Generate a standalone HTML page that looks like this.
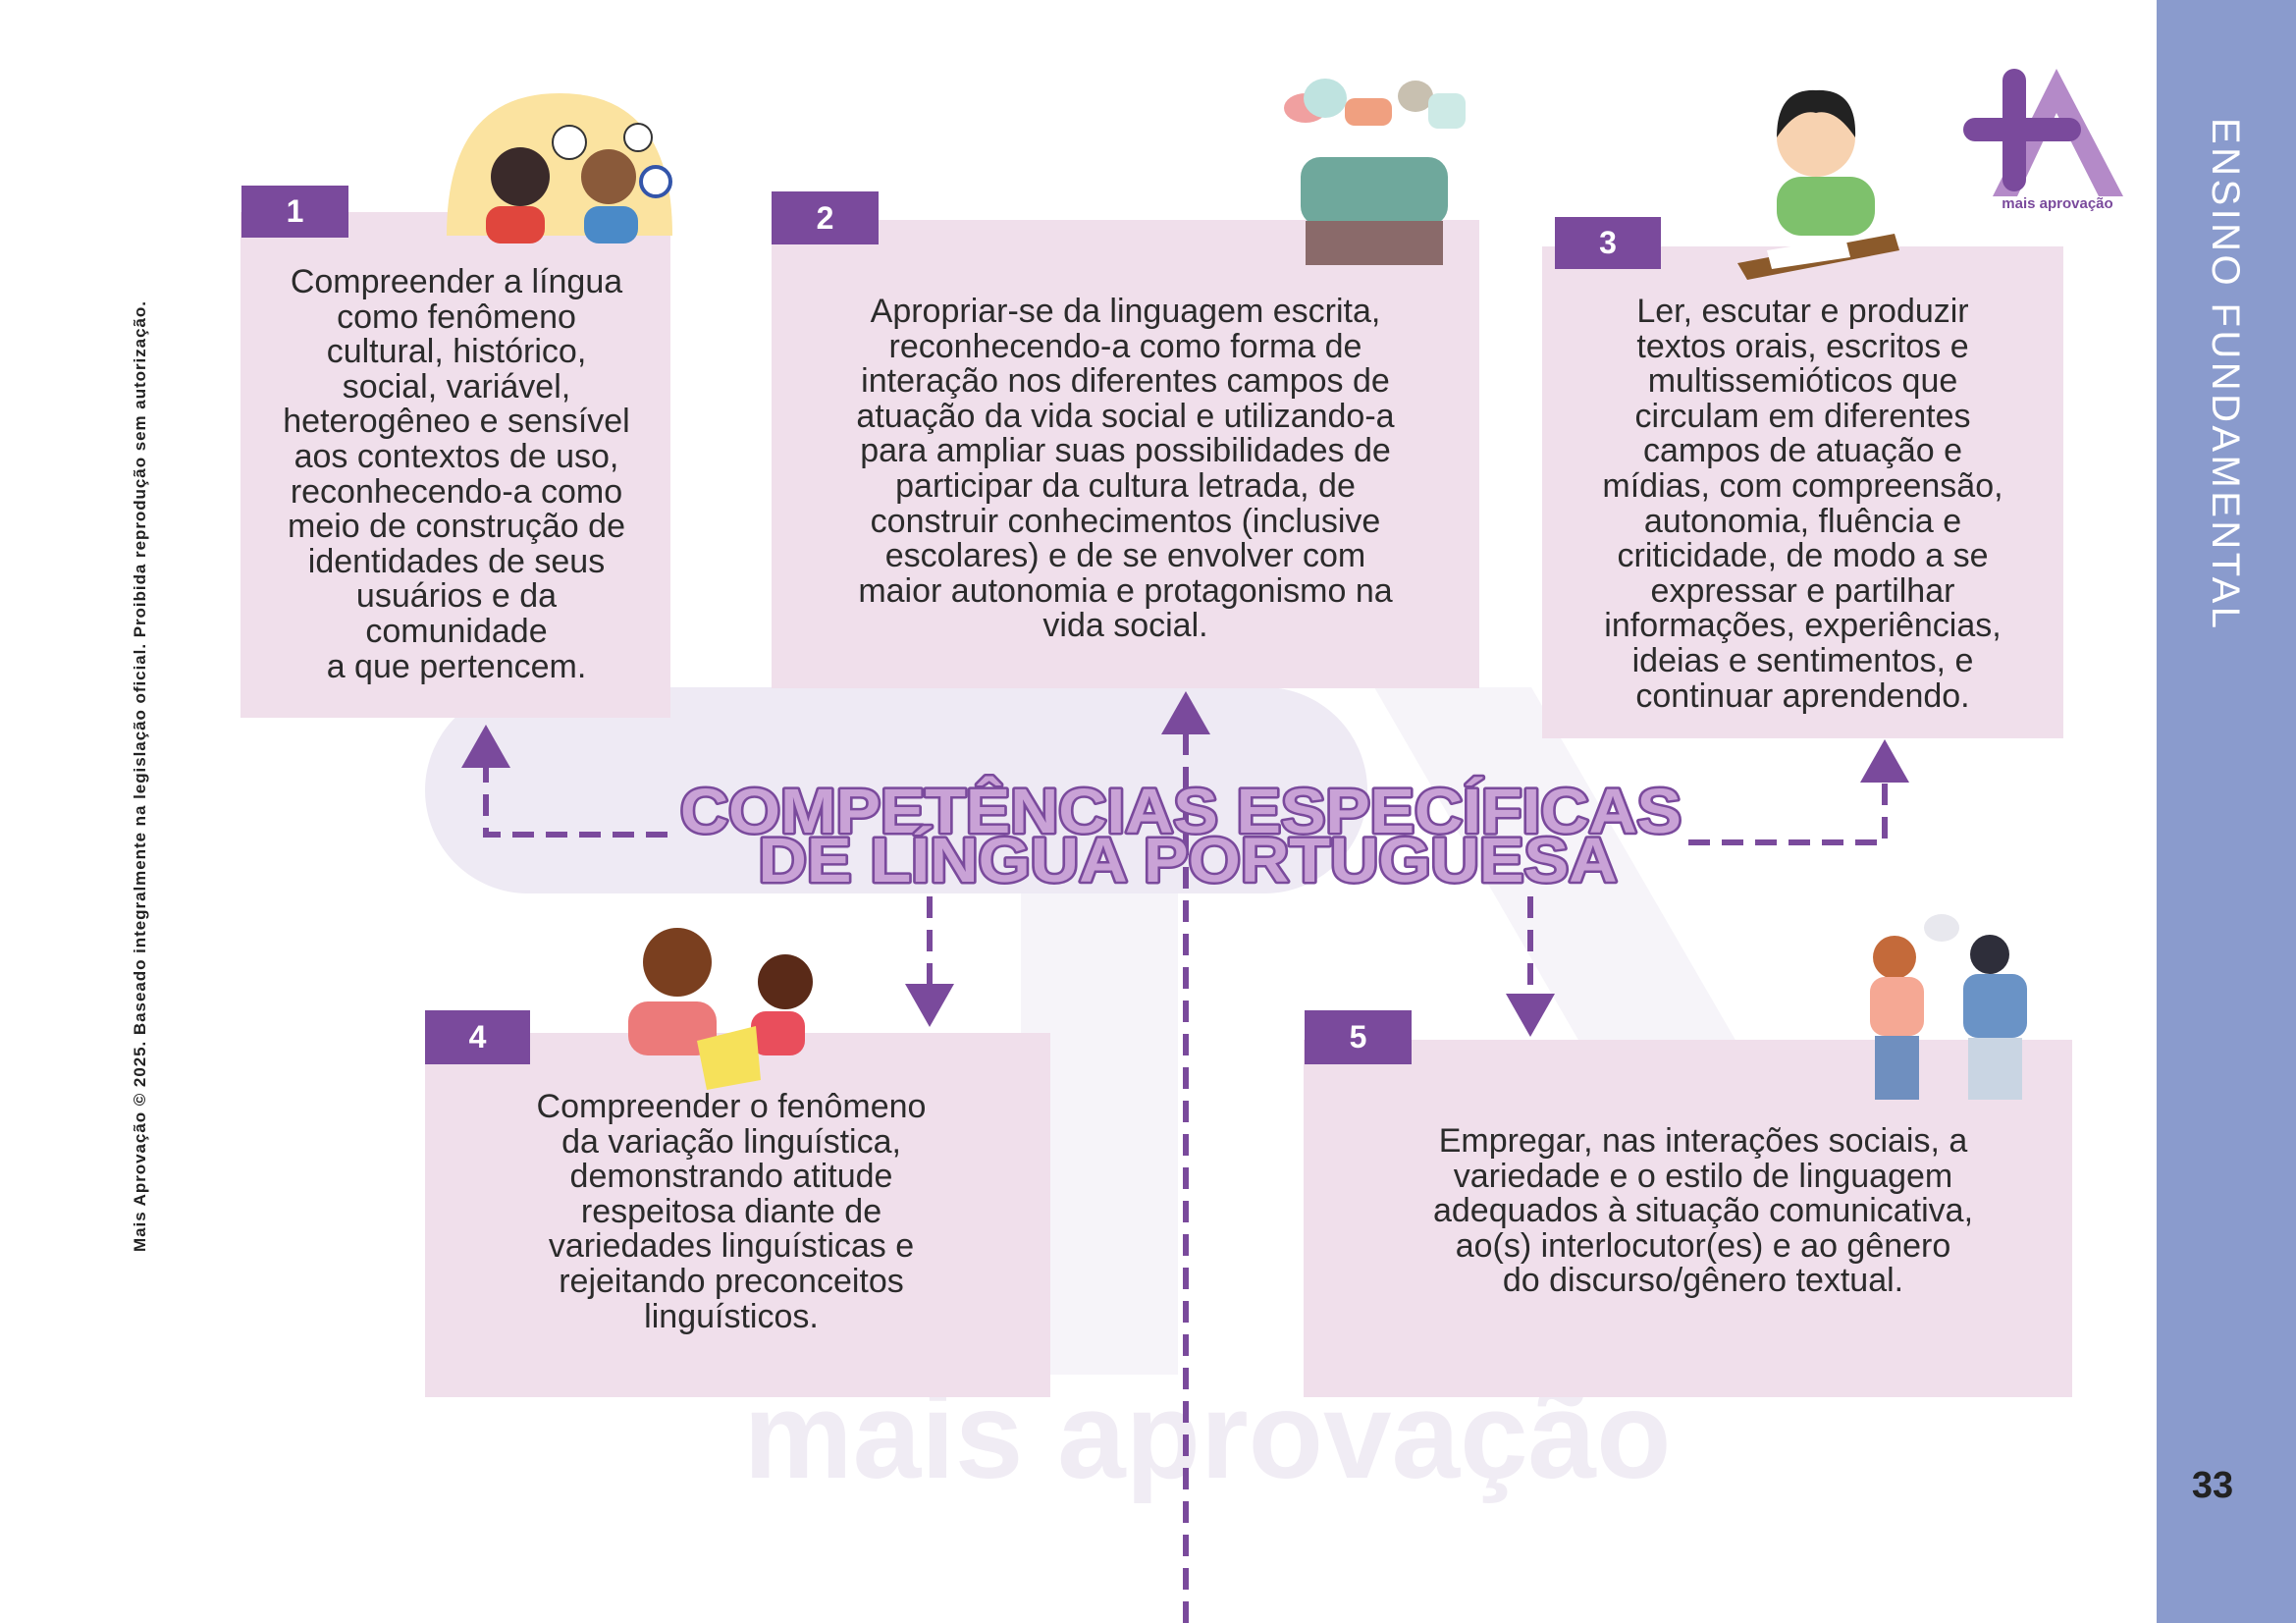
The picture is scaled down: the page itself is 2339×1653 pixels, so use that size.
<!DOCTYPE html>
<html><head><meta charset="utf-8">
<style>
html,body{margin:0;padding:0;}
body{width:2339px;height:1653px;position:relative;background:#fff;overflow:hidden;font-family:"Liberation Sans",sans-serif;}
.box{position:absolute;background:#f0dfeb;}
.tab{position:absolute;background:#7a4a9c;color:#fff;font-weight:bold;font-size:32px;display:flex;align-items:center;justify-content:center;}
.txt{position:absolute;text-align:center;color:#2b2b2b;font-size:34px;line-height:35.6px;}
</style></head><body>
<svg width="2339" height="1653" style="position:absolute;left:0;top:0">
 <rect x="433" y="700" width="960" height="210" rx="105" fill="#eeeaf4"/>
 <polygon points="1040,910 1200,910 1200,1400 1040,1400" fill="#f6f4f9"/>
 <polygon points="1400,700 1560,700 1780,1080 1620,1080" fill="#f6f4f9"/>
 <text x="1230" y="1505" text-anchor="middle" font-family="Liberation Sans" font-weight="bold" font-size="125" fill="#f0ecf4">mais aprovação</text>
 <rect x="2197" y="0" width="142" height="1653" fill="#8a9bcd"/>
 <text transform="translate(2254,120) rotate(90)" font-family="Liberation Sans" font-size="40" fill="#fff" textLength="520">ENSINO FUNDAMENTAL</text>
 <text x="2254" y="1525" text-anchor="middle" font-family="Liberation Sans" font-weight="bold" font-size="38" fill="#222">33</text>
 <text transform="translate(148,1275) rotate(-90)" font-family="Liberation Sans" font-weight="bold" font-size="17" fill="#222" textLength="968">Mais Aprovação © 2025. Baseado integralmente na legislação oficial. Proibida reprodução sem autorização.</text>
 <g>
  <path d="M2095,70 L2163,200 L2138,200 L2095,115 Z" fill="#b48ac8"/>
  <path d="M2095,70 L2030,200 L2055,200 L2095,115 Z" fill="#b48ac8"/>
  <rect x="2040" y="70" width="24" height="125" rx="12" fill="#7a4a9c"/>
  <rect x="2000" y="120" width="120" height="24" rx="12" fill="#7a4a9c"/>
  <text x="2096" y="212" text-anchor="middle" font-family="Liberation Sans" font-weight="bold" font-size="15" fill="#7a4a9c">mais aprovação</text>
 </g>
 <g stroke="#7a4a9c" stroke-width="6" stroke-dasharray="22,12" fill="none">
  <path d="M680,850 L495,850 L495,775"/>
  <path d="M1208,1653 L1208,745"/>
  <path d="M1720,858 L1920,858 L1920,795"/>
  <path d="M947,913 L947,1005"/>
  <path d="M1559,913 L1559,1015"/>
 </g>
 <g fill="#7a4a9c">
  <polygon points="495,738 470,782 520,782"/>
  <polygon points="1208,704 1183,748 1233,748"/>
  <polygon points="1920,753 1895,797 1945,797"/>
  <polygon points="947,1046 922,1002 972,1002"/>
  <polygon points="1559,1056 1534,1012 1584,1012"/>
 </g>
</svg>
<div class="box" style="left:245px;top:216px;width:438px;height:515px"></div>
<div class="tab" style="left:246px;top:189px;width:109px;height:53px">1</div>
<div class="txt" style="left:255px;top:270px;width:420px">Compreender a língua<br>como fenômeno<br>cultural, histórico,<br>social, variável,<br>heterogêneo e sensível<br>aos contextos de uso,<br>reconhecendo-a como<br>meio de construção de<br>identidades de seus<br>usuários e da<br>comunidade<br>a que pertencem.</div>

<div class="box" style="left:786px;top:224px;width:721px;height:477px"></div>
<div class="tab" style="left:786px;top:195px;width:109px;height:54px">2</div>
<div class="txt" style="left:790px;top:300px;width:713px">Apropriar-se da linguagem escrita,<br>reconhecendo-a como forma de<br>interação nos diferentes campos de<br>atuação da vida social e utilizando-a<br>para ampliar suas possibilidades de<br>participar da cultura letrada, de<br>construir conhecimentos (inclusive<br>escolares) e de se envolver com<br>maior autonomia e protagonismo na<br>vida social.</div>

<div class="box" style="left:1571px;top:251px;width:531px;height:501px"></div>
<div class="tab" style="left:1584px;top:221px;width:108px;height:53px">3</div>
<div class="txt" style="left:1575px;top:300px;width:523px">Ler, escutar e produzir<br>textos orais, escritos e<br>multissemióticos que<br>circulam em diferentes<br>campos de atuação e<br>mídias, com compreensão,<br>autonomia, fluência e<br>criticidade, de modo a se<br>expressar e partilhar<br>informações, experiências,<br>ideias e sentimentos, e<br>continuar aprendendo.</div>

<div class="box" style="left:433px;top:1052px;width:637px;height:371px"></div>
<div class="tab" style="left:433px;top:1029px;width:107px;height:55px">4</div>
<div class="txt" style="left:440px;top:1110px;width:610px">Compreender o fenômeno<br>da variação linguística,<br>demonstrando atitude<br>respeitosa diante de<br>variedades linguísticas e<br>rejeitando preconceitos<br>linguísticos.</div>

<div class="box" style="left:1328px;top:1059px;width:783px;height:364px"></div>
<div class="tab" style="left:1329px;top:1029px;width:109px;height:55px">5</div>
<div class="txt" style="left:1340px;top:1145px;width:790px">Empregar, nas interações sociais, a<br>variedade e o estilo de linguagem<br>adequados à situação comunicativa,<br>ao(s) interlocutor(es) e ao gênero<br>do discurso/gênero textual.</div>

<svg width="2339" height="1653" style="position:absolute;left:0;top:0;pointer-events:none">
 <g font-family="Liberation Sans" font-weight="bold" font-size="64" fill="#c9a2d6" stroke="#7a4a9c" stroke-width="5" paint-order="stroke" text-anchor="middle" stroke-linejoin="round">
  <text x="1203" y="848" textLength="1020" lengthAdjust="spacingAndGlyphs">COMPETÊNCIAS ESPECÍFICAS</text>
  <text x="1210" y="898" textLength="875" lengthAdjust="spacingAndGlyphs">DE LÍNGUA PORTUGUESA</text>
 </g>
 <g>
  <path d="M455,240 Q455,95 570,95 Q685,95 685,240 Z" fill="#fbe3a0"/>
  <circle cx="530" cy="180" r="30" fill="#3a2a2a"/><rect x="495" y="210" width="60" height="38" rx="15" fill="#e0463d"/>
  <circle cx="620" cy="180" r="28" fill="#8a5a3a"/><rect x="595" y="210" width="55" height="38" rx="15" fill="#4a8ac8"/>
  <circle cx="580" cy="145" r="17" fill="#fff" stroke="#333" stroke-width="2"/>
  <circle cx="650" cy="140" r="14" fill="#fff" stroke="#333" stroke-width="2"/>
  <circle cx="668" cy="185" r="15" fill="#fff" stroke="#3355aa" stroke-width="4"/>
 </g>
 <g>
  <ellipse cx="1330" cy="110" rx="22" ry="15" fill="#f0a0a0"/>
  <ellipse cx="1350" cy="100" rx="22" ry="20" fill="#bfe3e0"/>
  <rect x="1370" y="100" width="48" height="28" rx="10" fill="#f0a080"/>
  <ellipse cx="1442" cy="98" rx="18" ry="16" fill="#c8c0b0"/>
  <rect x="1455" y="95" width="38" height="36" rx="10" fill="#cdeae6"/>
  <rect x="1325" y="160" width="150" height="70" rx="20" fill="#6fa89c"/>
  <rect x="1330" y="225" width="140" height="45" fill="#8a6a6a"/>
 </g>
 <g>
  <circle cx="1850" cy="140" r="40" fill="#f7d2b0"/>
  <path d="M1810,140 Q1810,90 1850,92 Q1892,90 1890,140 Q1870,110 1850,115 Q1830,110 1810,140Z" fill="#222"/>
  <rect x="1810" y="180" width="100" height="60" rx="25" fill="#7ec16c"/>
  <polygon points="1770,268 1930,238 1935,255 1780,285" fill="#8b5a2b"/>
  <polygon points="1800,255 1880,242 1885,262 1805,274" fill="#fff"/>
 </g>
 <g>
  <circle cx="690" cy="980" r="35" fill="#7a3f1f"/>
  <circle cx="800" cy="1000" r="28" fill="#5a2a18"/>
  <rect x="640" y="1020" width="90" height="55" rx="20" fill="#ec7a7a"/>
  <rect x="765" y="1030" width="55" height="45" rx="15" fill="#e94e5c"/>
  <polygon points="710,1060 770,1045 775,1100 720,1110" fill="#f6e15a"/>
 </g>
 <g>
  <circle cx="1930" cy="975" r="22" fill="#c46a3a"/>
  <rect x="1905" y="995" width="55" height="60" rx="15" fill="#f5a894"/>
  <rect x="1910" y="1055" width="45" height="65" fill="#6f8fbf"/>
  <circle cx="2027" cy="972" r="20" fill="#2e2e3a"/>
  <rect x="2000" y="992" width="65" height="65" rx="15" fill="#6a93c6"/>
  <rect x="2005" y="1057" width="55" height="63" fill="#c9d5e3"/>
  <ellipse cx="1978" cy="945" rx="18" ry="14" fill="#e8e8ee"/>
 </g>
</svg>
</body></html>
